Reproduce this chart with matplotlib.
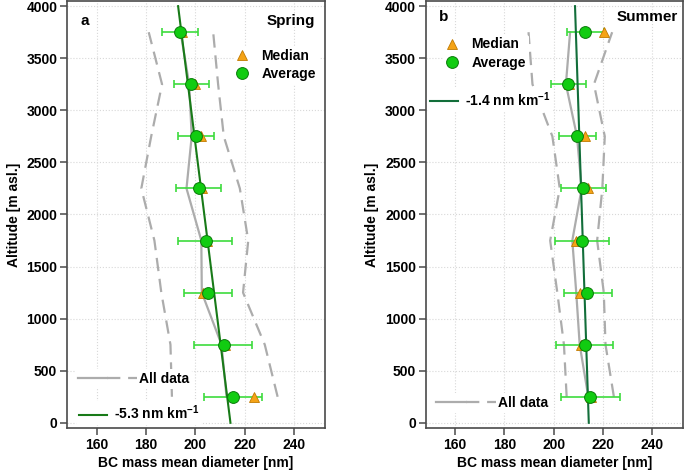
import matplotlib
matplotlib.use("Agg")
import matplotlib.pyplot as plt
from matplotlib.lines import Line2D
from matplotlib.legend_handler import HandlerTuple

plt.rcParams["font.family"] = ["Liberation Sans", "DejaVu Sans"]
plt.rcParams["font.weight"] = "bold"
plt.rcParams["mathtext.fontset"] = "custom"
plt.rcParams["mathtext.rm"] = "Liberation Sans:bold"
plt.rcParams["mathtext.bf"] = "Liberation Sans:bold"

# altitude bins (m asl.)
altitude = [250, 750, 1250, 1750, 2250, 2750, 3250, 3750]

# spring
spring_avg = [215.3, 211.5, 205.1, 204.1, 201.5, 200.4, 198.4, 193.7]
spring_err_lo = [203.3, 199.6, 195.4, 193.0, 192.3, 193.0, 191.4, 186.5]
spring_err_hi = [227.0, 223.0, 214.9, 214.9, 210.5, 207.6, 205.5, 201.1]
spring_median = [223.7, 211.9, 203.1, 204.7, 202.5, 202.2, 199.7, 194.5]
spring_all_med = [212.6, 210.6, 202.6, 202.4, 196.4, 198.5, 197.5, 194.0]
spring_all_lo = [190.5, 189.9, 186.2, 183.4, 178.1, 182.1, 186.5, 181.1]
spring_all_hi = [233.3, 228.1, 219.3, 221.4, 218.0, 211.5, 209.2, 207.2]
spring_fit = (214.2, -5.3)  # intercept nm, slope nm/km

# summer
summer_avg = [214.7, 212.6, 213.7, 211.7, 212.1, 209.5, 206.0, 212.6]
summer_err_lo = [202.8, 200.9, 204.2, 200.6, 202.9, 202.2, 199.1, 205.3]
summer_err_hi = [226.8, 224.1, 223.6, 222.5, 221.1, 217.1, 213.3, 220.4]
summer_median = [215.0, 211.0, 210.6, 209.0, 214.1, 212.6, 206.2, 220.4]
summer_all_med = [214.1, 210.6, 209.2, 207.6, 211.4, 209.5, 205.0, 206.7]
summer_all_lo = [205.3, 204.2, 201.5, 198.6, 202.5, 199.5, 191.4, 189.8]
summer_all_hi = [224.5, 221.1, 220.4, 217.7, 219.8, 220.8, 216.4, 223.8]
summer_fit = (214.3, -1.4)

fit_alt = [0, 4000]

GRAY = "#acacac"
LIGHTGREEN = "#3ddc3d"
GREEN = "#11cc11"
ORANGE = "#f5a316"
DASH = (0, (6, 3.5))
FS = 10


def draw_panel(ax, avg, lo, hi, med, all_med, all_lo, all_hi, fit, fit_color):
    ax.plot(all_med, altitude, color=GRAY, lw=1.6, zorder=2)
    ax.plot(all_lo, altitude, color=GRAY, lw=1.6, ls=DASH, zorder=2)
    ax.plot(all_hi, altitude, color=GRAY, lw=1.6, ls=DASH, zorder=2)

    fit_x = [fit[0] + fit[1] * a / 1000 for a in fit_alt]
    ax.plot(fit_x, fit_alt, color=fit_color, lw=1.5, zorder=4)

    xerr = [[a - l for a, l in zip(avg, lo)], [h - a for a, h in zip(avg, hi)]]
    ax.errorbar(avg, altitude, xerr=xerr, fmt="none", ecolor=LIGHTGREEN,
                elinewidth=1.2, capsize=3, capthick=1.2, zorder=3)
    ax.plot(med, altitude, ls="none", marker="^", ms=7.5, mfc=ORANGE,
            mec="#c07a00", mew=0.6, zorder=5)
    ax.plot(avg, altitude, ls="none", marker="o", ms=8.5, mfc=GREEN,
            mec="#0a7a0a", mew=0.7, zorder=6)

    ax.set_xlim(148, 252.5)
    ax.set_ylim(-50, 4050)
    ax.set_xticks([160, 180, 200, 220, 240])
    ax.set_yticks(range(0, 4001, 500))
    ax.grid(True, color="#d8d8d8", ls=":", lw=0.8)
    ax.set_axisbelow(True)
    for s in ax.spines.values():
        s.set_color("#4a4a4a")
        s.set_linewidth(1.2)
    ax.tick_params(length=5, width=1.1, color="#4a4a4a", labelsize=FS, pad=2)
    for lab in ax.get_xticklabels() + ax.get_yticklabels():
        lab.set_fontweight("bold")
    ax.set_xlabel("BC mass mean diameter [nm]", fontsize=FS, fontweight="bold", labelpad=3)
    ax.set_ylabel("Altitude [m asl.]", fontsize=FS, fontweight="bold", labelpad=4)


def marker_handles():
    tri = Line2D([], [], ls="none", marker="^", ms=7.5, mfc=ORANGE, mec="#c07a00", mew=0.6)
    circ = Line2D([], [], ls="none", marker="o", ms=8.5, mfc=GREEN, mec="#0a7a0a", mew=0.7)
    return [tri, circ]


def add_legend(ax, handles, labels, anchor, loc, hl, **kw):
    leg = ax.legend(handles, labels, loc=loc, bbox_to_anchor=anchor,
                    handlelength=hl, fontsize=FS, frameon=True, facecolor="white",
                    edgecolor="none", framealpha=1, borderpad=0.2,
                    borderaxespad=0, **kw)
    for t in leg.get_texts():
        t.set_fontweight("bold")
    leg.set_zorder(7)
    ax.add_artist(leg)
    return leg


fig = plt.figure(figsize=(6.85, 4.76), dpi=100)
ax1 = fig.add_axes([0.0978, 0.1008, 0.3767, 0.8972])
ax2 = fig.add_axes([0.6215, 0.1008, 0.3752, 0.8972])

draw_panel(ax1, spring_avg, spring_err_lo, spring_err_hi, spring_median,
           spring_all_med, spring_all_lo, spring_all_hi, spring_fit, "#187a18")
draw_panel(ax2, summer_avg, summer_err_lo, summer_err_hi, summer_median,
           summer_all_med, summer_all_lo, summer_all_hi, summer_fit, "#126e3a")

all_handle = (Line2D([], [], color=GRAY, lw=1.6),
              Line2D([], [], color=GRAY, lw=1.6, ls=DASH))
tuple_map = {tuple: HandlerTuple(ndivide=None, pad=0)}

# spring legends
add_legend(ax1, marker_handles(), ["Median", "Average"], (0.975, 0.85), "center right",
           0.8, handletextpad=1.0, labelspacing=0.3)
add_legend(ax1, [all_handle], ["All data"], (0.03, 0.115), "center left", 4.3,
           handler_map=tuple_map, handletextpad=0.15)
add_legend(ax1, [Line2D([], [], color="#187a18", lw=1.5)], [r"-5.3 nm km$^{-1}$"],
           (0.035, 0.035), "center left", 2.0, handletextpad=0.5)
ax1.text(0.07, 0.953, "a", transform=ax1.transAxes, fontsize=11, fontweight="bold",
         ha="center", va="center")
ax1.text(0.962, 0.953, "Spring", transform=ax1.transAxes, fontsize=11, fontweight="bold",
         ha="right", va="center")

# summer legends
add_legend(ax2, marker_handles(), ["Median", "Average"], (0.07, 0.877), "center left",
           0.8, handletextpad=1.0, labelspacing=0.3)
add_legend(ax2, [Line2D([], [], color="#126e3a", lw=1.5)], [r"-1.4 nm km$^{-1}$"],
           (0.005, 0.768), "center left", 2.0, handletextpad=0.5)
add_legend(ax2, [all_handle], ["All data"], (0.03, 0.0585), "center left", 4.3,
           handler_map=tuple_map, handletextpad=0.15)
ax2.text(0.071, 0.962, "b", transform=ax2.transAxes, fontsize=11, fontweight="bold",
         ha="center", va="center")
ax2.text(0.98, 0.962, "Summer", transform=ax2.transAxes, fontsize=11, fontweight="bold",
         ha="right", va="center")

fig.savefig("out.png", dpi=100)
